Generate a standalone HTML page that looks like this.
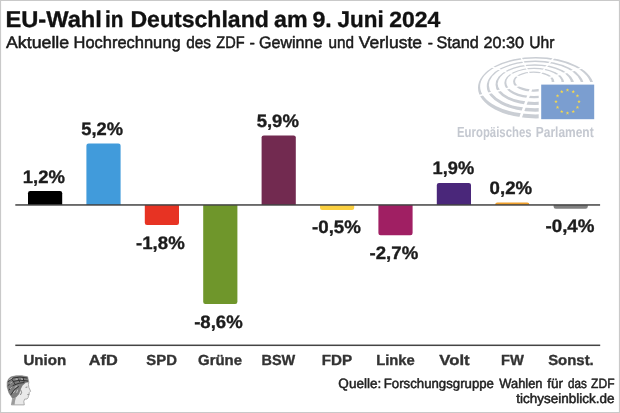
<!DOCTYPE html>
<html lang="de"><head><meta charset="utf-8"><title>EU-Wahl in Deutschland am 9. Juni 2024</title>
<style>
html,body{margin:0;padding:0;background:#fff;overflow:hidden}
svg{display:block}
text{font-family:'Liberation Sans',sans-serif;text-rendering:geometricPrecision}
</style></head><body>
<svg width="620" height="413" viewBox="0 0 620 413">
<rect x="0" y="0" width="620" height="413" fill="#ffffff"/>

<g id="bars">
<path d="M28.0,205.0 V193.2 Q28.0,191.0 30.2,191.0 H60.0 Q62.2,191.0 62.2,193.2 V205.0 Z" fill="#000000"/>
<path d="M86.4,205.0 V145.8 Q86.4,143.6 88.6,143.6 H118.4 Q120.6,143.6 120.6,145.8 V205.0 Z" fill="#419bdb"/>
<path d="M144.8,205.0 V222.7 Q144.8,224.9 147.0,224.9 H176.8 Q179.0,224.9 179.0,222.7 V205.0 Z" fill="#e73323"/>
<path d="M203.2,205.0 V301.8 Q203.2,304.0 205.4,304.0 H235.2 Q237.4,304.0 237.4,301.8 V205.0 Z" fill="#6f962b"/>
<path d="M261.6,205.0 V137.6 Q261.6,135.4 263.8,135.4 H293.6 Q295.8,135.4 295.8,137.6 V205.0 Z" fill="#722a50"/>
<path d="M320.0,205.0 V207.8 Q320.0,210.0 322.2,210.0 H352.0 Q354.2,210.0 354.2,207.8 V205.0 Z" fill="#fbd041"/>
<path d="M378.4,205.0 V233.1 Q378.4,235.3 380.6,235.3 H410.4 Q412.6,235.3 412.6,233.1 V205.0 Z" fill="#a01f63"/>
<path d="M436.8,205.0 V185.1 Q436.8,182.9 439.0,182.9 H468.8 Q471.0,182.9 471.0,185.1 V205.0 Z" fill="#4a277a"/>
<path d="M495.2,205.0 V204.6 Q495.2,202.4 497.4,202.4 H527.2 Q529.4,202.4 529.4,204.6 V205.0 Z" fill="#f0a02c"/>
<path d="M553.6,205.0 V206.5 Q553.6,208.7 555.8,208.7 H585.6 Q587.8,208.7 587.8,206.5 V205.0 Z" fill="#808080"/>
</g>
<rect x="15.3" y="204.20" width="584.8" height="1.5" fill="#444444"/>
<rect x="15.3" y="344.55" width="584.9" height="1.5" fill="#444444"/>
<g id="hemicycle">
<path d="M478.00,87.70 A58.00,30.70 0 1 0 594.00,87.70 A58.00,30.70 0 1 0 478.00,87.70 Z M480.10,86.50 A55.40,28.00 0 1 0 590.90,86.50 A55.40,28.00 0 1 0 480.10,86.50 Z M486.77,86.17 A48.65,25.55 0 1 0 584.07,86.17 A48.65,25.55 0 1 0 486.77,86.17 Z M488.85,85.16 A46.12,23.07 0 1 0 581.10,85.16 A46.12,23.07 0 1 0 488.85,85.16 Z M495.55,84.65 A39.30,20.40 0 1 0 574.15,84.65 A39.30,20.40 0 1 0 495.55,84.65 Z M497.60,83.83 A36.85,18.15 0 1 0 571.30,83.83 A36.85,18.15 0 1 0 497.60,83.83 Z M504.33,83.12 A29.95,15.25 0 1 0 564.23,83.12 A29.95,15.25 0 1 0 504.33,83.12 Z M506.35,82.49 A27.58,13.23 0 1 0 561.50,82.49 A27.58,13.23 0 1 0 506.35,82.49 Z M513.10,81.60 A20.60,10.10 0 1 0 554.30,81.60 A20.60,10.10 0 1 0 513.10,81.60 Z M515.10,81.15 A18.30,8.30 0 1 0 551.70,81.15 A18.30,8.30 0 1 0 515.10,81.15 Z " fill="#caced4" fill-rule="evenodd"/>
<line x1="533.5" y1="82.0" x2="610.4" y2="59.9" stroke="#fff" stroke-width="1.5"/>
<line x1="533.5" y1="82.0" x2="584.9" y2="20.7" stroke="#fff" stroke-width="1.5"/>
<line x1="533.5" y1="82.0" x2="497.2" y2="10.7" stroke="#fff" stroke-width="1.5"/>
<line x1="533.5" y1="82.0" x2="458.3" y2="54.6" stroke="#fff" stroke-width="1.5"/>
<line x1="533.5" y1="82.0" x2="455.9" y2="101.4" stroke="#fff" stroke-width="1.5"/>
<line x1="533.5" y1="82.0" x2="506.1" y2="157.2" stroke="#fff" stroke-width="2.6"/>
<rect x="538.7" y="82" width="62" height="40" fill="#fff"/>
<rect x="541.2" y="84.6" width="53" height="34.6" fill="#7b9ed0"/>
<polygon points="567.50,88.20 567.94,89.49 569.31,89.51 568.21,90.33 568.62,91.64 567.50,90.85 566.38,91.64 566.79,90.33 565.69,89.51 567.06,89.49" fill="#f6d94c"/>
<polygon points="573.25,89.74 573.69,91.03 575.06,91.05 573.96,91.87 574.37,93.18 573.25,92.39 572.13,93.18 572.54,91.87 571.44,91.05 572.81,91.03" fill="#f6d94c"/>
<polygon points="577.46,93.95 577.90,95.24 579.27,95.26 578.17,96.08 578.58,97.39 577.46,96.60 576.34,97.39 576.75,96.08 575.65,95.26 577.02,95.24" fill="#f6d94c"/>
<polygon points="579.00,99.70 579.44,100.99 580.81,101.01 579.71,101.83 580.12,103.14 579.00,102.35 577.88,103.14 578.29,101.83 577.19,101.01 578.56,100.99" fill="#f6d94c"/>
<polygon points="577.46,105.45 577.90,106.74 579.27,106.76 578.17,107.58 578.58,108.89 577.46,108.10 576.34,108.89 576.75,107.58 575.65,106.76 577.02,106.74" fill="#f6d94c"/>
<polygon points="573.25,109.66 573.69,110.95 575.06,110.97 573.96,111.79 574.37,113.10 573.25,112.31 572.13,113.10 572.54,111.79 571.44,110.97 572.81,110.95" fill="#f6d94c"/>
<polygon points="567.50,111.20 567.94,112.49 569.31,112.51 568.21,113.33 568.62,114.64 567.50,113.85 566.38,114.64 566.79,113.33 565.69,112.51 567.06,112.49" fill="#f6d94c"/>
<polygon points="561.75,109.66 562.19,110.95 563.56,110.97 562.46,111.79 562.87,113.10 561.75,112.31 560.63,113.10 561.04,111.79 559.94,110.97 561.31,110.95" fill="#f6d94c"/>
<polygon points="557.54,105.45 557.98,106.74 559.35,106.76 558.25,107.58 558.66,108.89 557.54,108.10 556.42,108.89 556.83,107.58 555.73,106.76 557.10,106.74" fill="#f6d94c"/>
<polygon points="556.00,99.70 556.44,100.99 557.81,101.01 556.71,101.83 557.12,103.14 556.00,102.35 554.88,103.14 555.29,101.83 554.19,101.01 555.56,100.99" fill="#f6d94c"/>
<polygon points="557.54,93.95 557.98,95.24 559.35,95.26 558.25,96.08 558.66,97.39 557.54,96.60 556.42,97.39 556.83,96.08 555.73,95.26 557.10,95.24" fill="#f6d94c"/>
<polygon points="561.75,89.74 562.19,91.03 563.56,91.05 562.46,91.87 562.87,93.18 561.75,92.39 560.63,93.18 561.04,91.87 559.94,91.05 561.31,91.03" fill="#f6d94c"/>
</g>
<g id="logo">
<path d="M11.4,404.9 L12.6,398.4 L9,393 L7.2,387 L7.2,382 L8.6,379 L10.6,377 L16,375.8 L22,375.8 L27.6,376.8 L28.8,382.3 L28.4,384.5 L28.9,387.5 L30.6,391.2 L29.2,392.6 L29.3,394.6 L28.4,396 L28.2,397.6 L27,399 L24.6,399.2 L23.8,401.5 L24.3,404.9 Z" fill="#e9e9e9" stroke="#8e8e8e" stroke-width="0.7" stroke-linejoin="round"/>
<path d="M12.6,398.4 L9,393 L7.2,387 L7.2,382 L8.6,379 L10.6,377 L16,375.8 L22,375.8 L27.6,376.8 L28.8,382.3 L25.8,382.8 L22.6,385.6 L20.6,389.6 L19.2,394 L16,397.6 Z" fill="#7d7d7d"/>
<path d="M12.6,398.4 L16,397.6 L15,401 L14.6,404.7 L11.5,404.7 Z" fill="#9a9a9a"/>
<path d="M8.4,381.5 L13,378 L20,377 L27,378 M8,385.5 L13,381.5 L20,380.2 L27.6,381 M9,390 L13,385.5 L19,383.2 L24,382.6 M11,394.6 L14.5,389.5 L18.6,386.6 M12,379.5 L15,384 M17.5,377.4 L19.5,381.5 M23,377.6 L24,381.4" stroke="#333333" stroke-width="1" fill="none" stroke-linecap="round"/>
<path d="M9.6,379.6 L12,378 M10,383.6 L12.4,382 M16,379.2 L18,379 M21.4,379 L22.6,379.2 M10.4,388.6 L12,386.8 M15,387.4 L16.8,386 M13.6,392.6 L15,390.8 M16.8,392.4 L17.6,390" stroke="#d6d6d6" stroke-width="0.8" fill="none" stroke-linecap="round"/>
<path d="M25.6,387.4 L27.4,387 M27.4,394.6 L28.9,394.3 M20.6,389.6 L21.6,392.6 L20.4,395" stroke="#5a5a5a" stroke-width="0.7" fill="none"/>
</g>
<g id="labels">
<text transform="translate(5.40,26.90) scale(1.0393,1)" font-family="'Liberation Sans', sans-serif" font-weight="bold" font-size="22.8" fill="#111111" stroke="#111111" stroke-width="0.35" stroke-linejoin="round">EU-Wahl</text>
<text transform="translate(104.96,26.90) scale(0.9127,1)" font-family="'Liberation Sans', sans-serif" font-weight="bold" font-size="22.8" fill="#111111" stroke="#111111" stroke-width="0.35" stroke-linejoin="round">in</text>
<text transform="translate(130.44,26.90) scale(1.0115,1)" font-family="'Liberation Sans', sans-serif" font-weight="bold" font-size="22.8" fill="#111111" stroke="#111111" stroke-width="0.35" stroke-linejoin="round">Deutschland</text>
<text transform="translate(273.99,26.90) scale(1.0176,1)" font-family="'Liberation Sans', sans-serif" font-weight="bold" font-size="22.8" fill="#111111" stroke="#111111" stroke-width="0.35" stroke-linejoin="round">am</text>
<text transform="translate(312.47,26.90) scale(1.0545,1)" font-family="'Liberation Sans', sans-serif" font-weight="bold" font-size="21.9336" fill="#111111" stroke="#111111" stroke-width="0.35" stroke-linejoin="round">9.</text>
<text transform="translate(337.60,26.90) scale(0.9846,1)" font-family="'Liberation Sans', sans-serif" font-weight="bold" font-size="22.8" fill="#111111" stroke="#111111" stroke-width="0.35" stroke-linejoin="round">Juni</text>
<text transform="translate(389.18,26.90) scale(1.0474,1)" font-family="'Liberation Sans', sans-serif" font-weight="bold" font-size="21.9336" fill="#111111" stroke="#111111" stroke-width="0.35" stroke-linejoin="round">2024</text>
<text transform="translate(5.97,47.50) scale(1.0712,1)" font-family="'Liberation Sans', sans-serif" font-weight="normal" font-size="16.6" fill="#1a1a1a" stroke="#1a1a1a" stroke-width="0.5" stroke-linejoin="round">Aktuelle</text>
<text transform="translate(73.51,47.50) scale(0.9920,1)" font-family="'Liberation Sans', sans-serif" font-weight="normal" font-size="16.6" fill="#1a1a1a" stroke="#1a1a1a" stroke-width="0.5" stroke-linejoin="round">Hochrechnung</text>
<text transform="translate(186.27,47.50) scale(0.9257,1)" font-family="'Liberation Sans', sans-serif" font-weight="normal" font-size="16.6" fill="#1a1a1a" stroke="#1a1a1a" stroke-width="0.5" stroke-linejoin="round">des</text>
<text transform="translate(216.28,47.50) scale(0.8756,1)" font-family="'Liberation Sans', sans-serif" font-weight="normal" font-size="16.6" fill="#1a1a1a" stroke="#1a1a1a" stroke-width="0.5" stroke-linejoin="round">ZDF</text>
<text transform="translate(249.61,47.50) scale(0.9778,1)" font-family="'Liberation Sans', sans-serif" font-weight="normal" font-size="16.6" fill="#1a1a1a" stroke="#1a1a1a" stroke-width="0.5" stroke-linejoin="round">-</text>
<text transform="translate(259.02,47.50) scale(0.9674,1)" font-family="'Liberation Sans', sans-serif" font-weight="normal" font-size="16.6" fill="#1a1a1a" stroke="#1a1a1a" stroke-width="0.5" stroke-linejoin="round">Gewinne</text>
<text transform="translate(328.41,47.50) scale(0.9219,1)" font-family="'Liberation Sans', sans-serif" font-weight="normal" font-size="16.6" fill="#1a1a1a" stroke="#1a1a1a" stroke-width="0.5" stroke-linejoin="round">und</text>
<text transform="translate(358.76,47.50) scale(1.0544,1)" font-family="'Liberation Sans', sans-serif" font-weight="normal" font-size="16.6" fill="#1a1a1a" stroke="#1a1a1a" stroke-width="0.5" stroke-linejoin="round">Verluste</text>
<text transform="translate(427.63,47.50) scale(0.9333,1)" font-family="'Liberation Sans', sans-serif" font-weight="normal" font-size="16.6" fill="#1a1a1a" stroke="#1a1a1a" stroke-width="0.5" stroke-linejoin="round">-</text>
<text transform="translate(436.41,47.50) scale(0.9762,1)" font-family="'Liberation Sans', sans-serif" font-weight="normal" font-size="16.6" fill="#1a1a1a" stroke="#1a1a1a" stroke-width="0.5" stroke-linejoin="round">Stand</text>
<text transform="translate(483.59,47.50) scale(1.0140,1)" font-family="'Liberation Sans', sans-serif" font-weight="normal" font-size="15.9692" fill="#1a1a1a" stroke="#1a1a1a" stroke-width="0.5" stroke-linejoin="round">20:30</text>
<text transform="translate(529.16,47.50) scale(0.9437,1)" font-family="'Liberation Sans', sans-serif" font-weight="normal" font-size="16.6" fill="#1a1a1a" stroke="#1a1a1a" stroke-width="0.5" stroke-linejoin="round">Uhr</text>
<text transform="translate(22.83,183.00) scale(1.0275,1)" font-family="'Liberation Sans', sans-serif" font-weight="bold" font-size="18.0" fill="#1c1c1c" stroke="#1c1c1c" stroke-width="0.35" stroke-linejoin="round">1,2%</text>
<text transform="translate(81.25,135.00) scale(1.0173,1)" font-family="'Liberation Sans', sans-serif" font-weight="bold" font-size="18.0" fill="#1c1c1c" stroke="#1c1c1c" stroke-width="0.35" stroke-linejoin="round">5,2%</text>
<text transform="translate(136.08,249.00) scale(1.0335,1)" font-family="'Liberation Sans', sans-serif" font-weight="bold" font-size="18.0" fill="#1c1c1c" stroke="#1c1c1c" stroke-width="0.35" stroke-linejoin="round">-1,8%</text>
<text transform="translate(194.18,328.00) scale(1.0314,1)" font-family="'Liberation Sans', sans-serif" font-weight="bold" font-size="18.0" fill="#1c1c1c" stroke="#1c1c1c" stroke-width="0.35" stroke-linejoin="round">-8,6%</text>
<text transform="translate(256.64,127.00) scale(1.0296,1)" font-family="'Liberation Sans', sans-serif" font-weight="bold" font-size="18.0" fill="#1c1c1c" stroke="#1c1c1c" stroke-width="0.35" stroke-linejoin="round">5,9%</text>
<text transform="translate(311.98,233.00) scale(1.0400,1)" font-family="'Liberation Sans', sans-serif" font-weight="bold" font-size="18.0" fill="#1c1c1c" stroke="#1c1c1c" stroke-width="0.35" stroke-linejoin="round">-0,5%</text>
<text transform="translate(369.58,259.00) scale(1.0335,1)" font-family="'Liberation Sans', sans-serif" font-weight="bold" font-size="18.0" fill="#1c1c1c" stroke="#1c1c1c" stroke-width="0.35" stroke-linejoin="round">-2,7%</text>
<text transform="translate(432.54,174.00) scale(1.0125,1)" font-family="'Liberation Sans', sans-serif" font-weight="bold" font-size="18.0" fill="#1c1c1c" stroke="#1c1c1c" stroke-width="0.35" stroke-linejoin="round">1,9%</text>
<text transform="translate(489.58,194.00) scale(1.0360,1)" font-family="'Liberation Sans', sans-serif" font-weight="bold" font-size="18.0" fill="#1c1c1c" stroke="#1c1c1c" stroke-width="0.35" stroke-linejoin="round">0,2%</text>
<text transform="translate(545.48,232.00) scale(1.0422,1)" font-family="'Liberation Sans', sans-serif" font-weight="bold" font-size="18.0" fill="#1c1c1c" stroke="#1c1c1c" stroke-width="0.35" stroke-linejoin="round">-0,4%</text>
<text transform="translate(23.48,365.30) scale(1.0335,1)" font-family="'Liberation Sans', sans-serif" font-weight="bold" font-size="14.6" fill="#333333" stroke="#333333" stroke-width="0.35" stroke-linejoin="round">Union</text>
<text transform="translate(88.82,365.30) scale(1.1168,1)" font-family="'Liberation Sans', sans-serif" font-weight="bold" font-size="14.6" fill="#333333" stroke="#333333" stroke-width="0.35" stroke-linejoin="round">AfD</text>
<text transform="translate(146.35,365.30) scale(1.0188,1)" font-family="'Liberation Sans', sans-serif" font-weight="bold" font-size="14.6" fill="#333333" stroke="#333333" stroke-width="0.35" stroke-linejoin="round">SPD</text>
<text transform="translate(198.04,365.30) scale(1.0212,1)" font-family="'Liberation Sans', sans-serif" font-weight="bold" font-size="14.6" fill="#333333" stroke="#333333" stroke-width="0.35" stroke-linejoin="round">Grüne</text>
<text transform="translate(261.46,365.30) scale(0.9910,1)" font-family="'Liberation Sans', sans-serif" font-weight="bold" font-size="14.6" fill="#333333" stroke="#333333" stroke-width="0.35" stroke-linejoin="round">BSW</text>
<text transform="translate(321.82,365.30) scale(1.0407,1)" font-family="'Liberation Sans', sans-serif" font-weight="bold" font-size="14.6" fill="#333333" stroke="#333333" stroke-width="0.35" stroke-linejoin="round">FDP</text>
<text transform="translate(376.14,365.30) scale(1.0135,1)" font-family="'Liberation Sans', sans-serif" font-weight="bold" font-size="14.6" fill="#333333" stroke="#333333" stroke-width="0.35" stroke-linejoin="round">Linke</text>
<text transform="translate(439.30,365.30) scale(1.1434,1)" font-family="'Liberation Sans', sans-serif" font-weight="bold" font-size="14.6" fill="#333333" stroke="#333333" stroke-width="0.35" stroke-linejoin="round">Volt</text>
<text transform="translate(500.94,365.30) scale(1.0067,1)" font-family="'Liberation Sans', sans-serif" font-weight="bold" font-size="14.6" fill="#333333" stroke="#333333" stroke-width="0.35" stroke-linejoin="round">FW</text>
<text transform="translate(548.14,365.30) scale(1.0230,1)" font-family="'Liberation Sans', sans-serif" font-weight="bold" font-size="14.6" fill="#333333" stroke="#333333" stroke-width="0.35" stroke-linejoin="round">Sonst.</text>
<text transform="translate(338.35,388.20) scale(1.0024,1)" font-family="'Liberation Sans', sans-serif" font-weight="normal" font-size="13.5" fill="#222222" stroke="#222222" stroke-width="0.5" stroke-linejoin="round">Quelle:</text>
<text transform="translate(383.77,388.20) scale(0.9785,1)" font-family="'Liberation Sans', sans-serif" font-weight="normal" font-size="13.5" fill="#222222" stroke="#222222" stroke-width="0.5" stroke-linejoin="round">Forschungsgruppe</text>
<text transform="translate(499.34,388.20) scale(0.9533,1)" font-family="'Liberation Sans', sans-serif" font-weight="normal" font-size="13.5" fill="#222222" stroke="#222222" stroke-width="0.5" stroke-linejoin="round">Wahlen</text>
<text transform="translate(547.35,388.20) scale(1.0000,1)" font-family="'Liberation Sans', sans-serif" font-weight="normal" font-size="13.5" fill="#222222" stroke="#222222" stroke-width="0.5" stroke-linejoin="round">für</text>
<text transform="translate(567.88,388.20) scale(0.8659,1)" font-family="'Liberation Sans', sans-serif" font-weight="normal" font-size="13.5" fill="#222222" stroke="#222222" stroke-width="0.5" stroke-linejoin="round">das</text>
<text transform="translate(591.10,388.20) scale(0.8923,1)" font-family="'Liberation Sans', sans-serif" font-weight="normal" font-size="13.5" fill="#222222" stroke="#222222" stroke-width="0.5" stroke-linejoin="round">ZDF</text>
<text transform="translate(516.35,403.20) scale(0.9995,1)" font-family="'Liberation Sans', sans-serif" font-weight="normal" font-size="13.5" fill="#222222" stroke="#222222" stroke-width="0.5" stroke-linejoin="round">tichyseinblick.de</text>
<text transform="translate(457.02,137.10) scale(0.7788,1)" font-family="'Liberation Sans', sans-serif" font-weight="bold" font-size="14.6" fill="#c4c8d0" stroke="#c4c8d0" stroke-width="0" stroke-linejoin="round">Europäisches</text>
<text transform="translate(535.78,137.10) scale(0.8201,1)" font-family="'Liberation Sans', sans-serif" font-weight="bold" font-size="14.6" fill="#c4c8d0" stroke="#c4c8d0" stroke-width="0" stroke-linejoin="round">Parlament</text>
</g>
<path d="M0,0 H620 V413 H0 Z M1.1,1.1 V412 H618.9 V1.1 Z" fill="#c9c9c9" fill-rule="evenodd"/>
</svg>
</body></html>
